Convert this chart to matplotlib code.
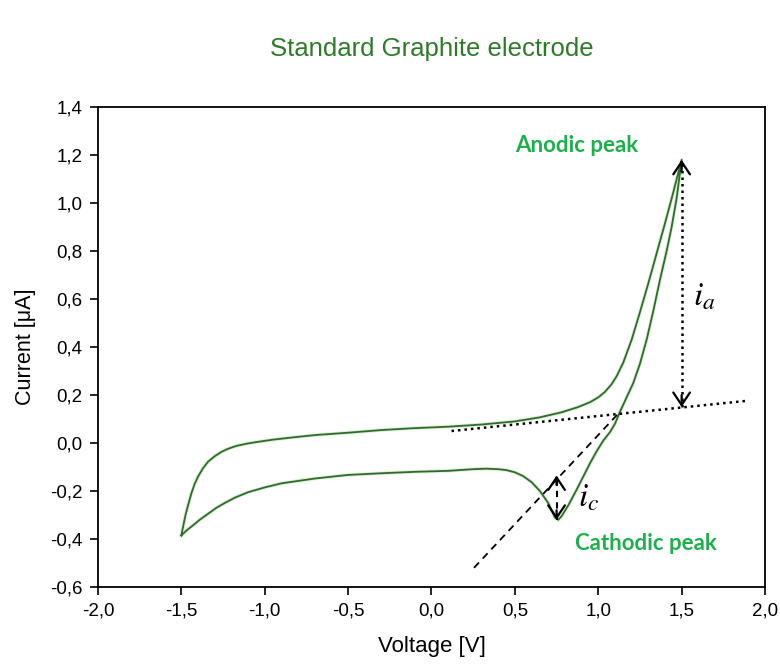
import numpy as np
import matplotlib.pyplot as plt
from matplotlib.ticker import FuncFormatter

plt.rcParams['font.family'] = ['Liberation Sans', 'DejaVu Sans']
plt.rcParams['mathtext.fontset'] = 'stix'

# forward scan, -1.5 V -> +1.5 V
v_fwd = [-1.50, -1.49, -1.475, -1.46, -1.44, -1.42, -1.40, -1.37, -1.34, -1.30,
         -1.26, -1.22, -1.17, -1.11, -1.05, -0.95, -0.85, -0.70, -0.50, -0.30,
         -0.10, 0.10, 0.30, 0.50, 0.65, 0.78, 0.88, 0.95, 1.00, 1.04,
         1.08, 1.11, 1.15, 1.20, 1.25, 1.30, 1.35, 1.40, 1.45, 1.50]
i_fwd = [-0.385, -0.35, -0.30, -0.26, -0.21, -0.17, -0.14, -0.105, -0.078, -0.055,
         -0.037, -0.024, -0.012, -0.003, 0.004, 0.014, 0.022, 0.033, 0.043, 0.054,
         0.062, 0.068, 0.077, 0.09, 0.107, 0.128, 0.15, 0.17, 0.19, 0.213,
         0.245, 0.278, 0.335, 0.43, 0.545, 0.665, 0.79, 0.915, 1.045, 1.18]

# reverse scan, +1.5 V -> -1.5 V
v_rev = [1.50, 1.47, 1.44, 1.41, 1.37, 1.33, 1.29, 1.25, 1.21, 1.17,
         1.13, 1.10, 1.07, 1.03, 0.99, 0.95, 0.91, 0.87, 0.82, 0.78,
         0.76, 0.74, 0.70, 0.65, 0.60, 0.55, 0.50, 0.45, 0.40, 0.33,
         0.25, 0.10, -0.10, -0.30, -0.50, -0.70, -0.90, -1.00, -1.10, -1.18,
         -1.24, -1.29, -1.34, -1.39, -1.43, -1.47, -1.50]
i_rev = [1.18, 1.02, 0.90, 0.80, 0.68, 0.55, 0.43, 0.33, 0.25, 0.19,
         0.13, 0.08, 0.045, 0.01, -0.035, -0.085, -0.14, -0.195, -0.26, -0.305,
         -0.32, -0.31, -0.25, -0.2, -0.163, -0.138, -0.122, -0.113, -0.109, -0.107,
         -0.109, -0.116, -0.12, -0.126, -0.133, -0.148, -0.168, -0.185, -0.205, -0.228,
         -0.25, -0.27, -0.295, -0.32, -0.343, -0.365, -0.385]

# baseline tangents
base_a_v = [0.12, 1.88]
base_a_i = [0.05, 0.175]
base_c_v = [0.255, 1.13]
base_c_i = [-0.52, 0.13]

# peak currents: (voltage, peak value, baseline value)
peak_a = (1.50, 1.18, 0.15)
peak_c = (0.75, -0.32, -0.135)

xticks = [-2.0, -1.5, -1.0, -0.5, 0.0, 0.5, 1.0, 1.5, 2.0]
yticks = [-0.6, -0.4, -0.2, 0.0, 0.2, 0.4, 0.6, 0.8, 1.0, 1.2, 1.4]

curve_col = '#2f6b2a'
label_col = '#1eae4e'

fig = plt.figure(figsize=(7.8, 6.66), dpi=100)
ax = fig.add_axes([0.1256, 0.1186, 0.8552, 0.7207])

ax.plot(v_fwd + v_rev, i_fwd + i_rev, color='#9ccf8f', lw=2.6, alpha=0.35,
        solid_joinstyle='round')
ax.plot(v_fwd + v_rev, i_fwd + i_rev, color=curve_col, lw=1.3,
        solid_joinstyle='round')

ax.plot(base_a_v, base_a_i, color='black', ls=(0, (1, 1.6)), lw=1.8)
ax.plot(base_c_v, base_c_i, color='black', ls=(0, (4, 3)), lw=1.3)

# anodic peak height
va, pa, ba = peak_a
ax.plot([va, va], [ba, pa], color='black', ls=(0, (1, 1.6)), lw=1.8)
arr = dict(arrowstyle='->,head_length=0.45,head_width=0.3', color='black',
           lw=1.6, mutation_scale=20, shrinkA=0, shrinkB=0)
ax.annotate('', xy=(va, pa), xytext=(va, pa - 0.05), arrowprops=arr)
ax.annotate('', xy=(va, ba), xytext=(va, ba + 0.05), arrowprops=arr)
ax.text(1.57, 0.61, r'$i_a$', fontsize=24, va='center', ha='left')

# cathodic peak height
vc, pc, bc = peak_c
ax.plot([vc, vc], [pc, bc], color='black', ls=(0, (3, 2.5)), lw=1.5)
ax.annotate('', xy=(vc, bc), xytext=(vc, bc - 0.04), arrowprops=arr)
ax.annotate('', xy=(vc, pc), xytext=(vc, pc + 0.04), arrowprops=arr)
ax.text(0.88, -0.23, r'$i_c$', fontsize=24, va='center', ha='left')

ax.text(0.87, 1.24, 'Anodic peak', color=label_col, fontsize=16,
        fontweight='bold', family=['Lato', 'DejaVu Sans'], ha='center', va='center')
ax.text(1.285, -0.42, 'Cathodic peak', color=label_col, fontsize=16,
        fontweight='bold', family=['Lato', 'DejaVu Sans'], ha='center', va='center')

ax.set_xlim(-2.0, 2.0)
ax.set_ylim(-0.6, 1.4)
ax.set_xticks(xticks)
ax.set_yticks(yticks)
comma = FuncFormatter(lambda val, pos: f'{val:.1f}'.replace('.', ',').replace('-0,0', '0,0'))
ax.xaxis.set_major_formatter(comma)
ax.yaxis.set_major_formatter(comma)
ax.tick_params(direction='out', length=6, width=1.2, labelsize=13.5, pad=5)
for s in ax.spines.values():
    s.set_linewidth(1.3)

ax.set_xlabel('Voltage [V]', fontsize=16, labelpad=12)
ax.set_ylabel('Current [μA]', fontsize=15.5, labelpad=10)

fig.text(0.554, 0.926, 'Standard Graphite electrode', color='#2e7a2a',
         fontsize=18.5, ha='center', va='center')

fig.savefig('out.png', dpi=100)
